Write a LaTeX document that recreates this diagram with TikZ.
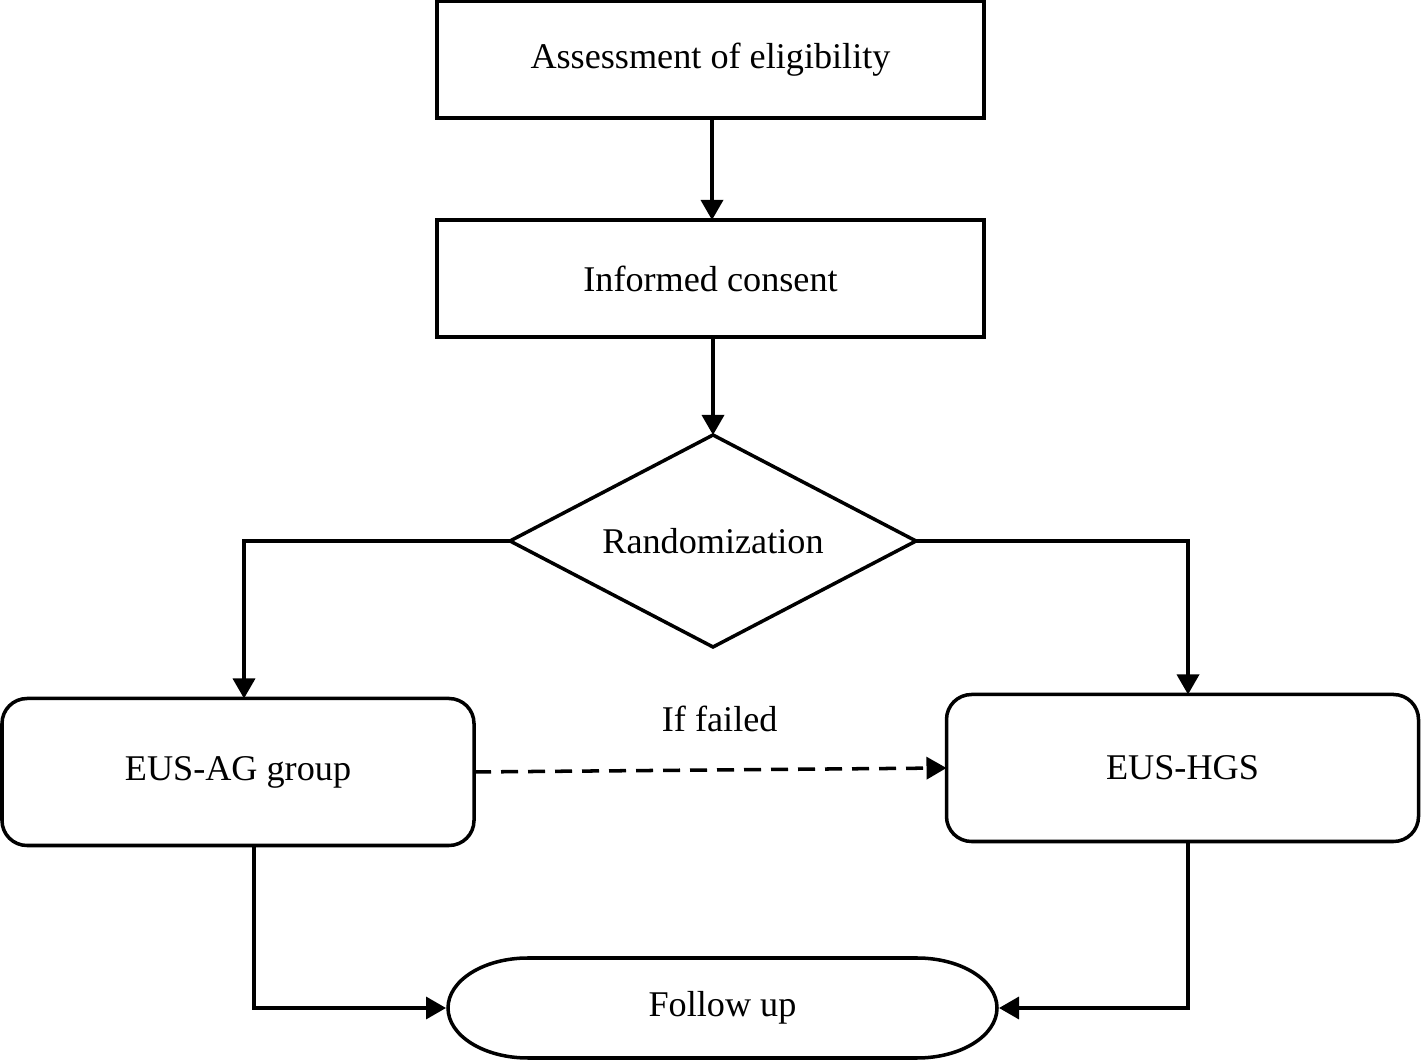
\documentclass[tikz,border=0pt]{standalone}
\usepackage{fontspec}
\setmainfont{Liberation Serif}
\usetikzlibrary{arrows.meta,shapes.geometric}

\begin{document}
\begin{tikzpicture}[inner sep=0pt,outer sep=0pt,line width=1pt,
>={Triangle[length=0.2cm,width=0.22cm]},
font=\fontsize{10.3pt}{13pt}\selectfont,
stepbox/.style={draw,rectangle,minimum width=5.47cm,minimum height=1.17cm},
groupbox/.style={draw,rectangle,rounded corners=0.25cm,minimum width=4.72cm,minimum height=1.47cm},
decision/.style={draw,diamond,aspect=2,minimum width=4.06cm,minimum height=2.12cm}]

\useasboundingbox (0,0) rectangle (14.21,10.6);

\draw (7.105,10.005) node[stepbox] (assess) {Assessment of eligibility};
\draw (7.105,7.815) node[stepbox] (consent) {Informed consent};
\draw (7.13,5.19) node[decision] (rand) {Randomization};
\draw (2.38,2.88) node[groupbox] (ag) {EUS-AG group};
\draw (11.825,2.92) node[groupbox] (hgs) {EUS-HGS};
\draw (7.225,0.52) node[minimum width=5.49cm,minimum height=0.97cm] (fu) {Follow up};

% terminal with elliptic ends
\draw ([xshift=0.8cm,yshift=0.015cm]fu.north west) -- ([xshift=-0.8cm,yshift=0.015cm]fu.north east)
  arc[start angle=90,end angle=-90,x radius=0.8cm,y radius=0.5cm]
  -- ([xshift=0.8cm,yshift=-0.015cm]fu.south west)
  arc[start angle=270,end angle=90,x radius=0.8cm,y radius=0.5cm] -- cycle;

\draw[->] ([xshift=0.015cm]assess.south) -- ([xshift=0.015cm]consent.north);
\draw[->] (consent.south -| rand.north) -- (rand.north);
\draw[->] (rand.west) -| ([xshift=0.06cm]ag.north);
\draw[->] (rand.east) -| ([xshift=0.055cm]hgs.north);
\draw[->,dash pattern=on 0.17cm off 0.1cm] (ag.east) -- (hgs.west) node[pos=0.52,above=0.38cm] (fail) {If failed};
\draw[->] ([xshift=0.16cm]ag.south) |- ([xshift=-0.02cm]fu.west);
\draw[->] ([xshift=0.055cm]hgs.south) |- ([xshift=0.02cm]fu.east);
\end{tikzpicture}
\end{document}
